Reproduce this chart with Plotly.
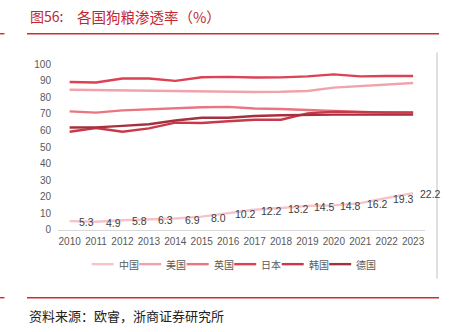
import plotly.graph_objects as go

W, H = 453, 332

years = list(range(2010, 2024))
series_names = ["中国", "美国", "英国", "日本", "韩国", "德国"]
china = [5.3, 4.9, 5.8, 6.3, 6.9, 8.0, 10.2, 12.2, 13.2, 14.5, 14.8, 16.2, 19.3, 22.2]
usa = [84.6, 84.4, 84.2, 84.0, 83.9, 83.8, 83.3, 83.3, 83.4, 83.9, 85.9, 86.8, 87.5, 88.7]
uk = [71.6, 70.8, 72.2, 72.9, 73.7, 74.1, 74.3, 73.3, 73.0, 72.3, 71.8, 71.2, 70.9, 70.8]
japan = [89.3, 89.0, 91.4, 91.4, 90.0, 92.2, 92.4, 92.0, 92.1, 92.7, 93.9, 92.7, 92.9, 92.9]
korea = [59.3, 61.5, 59.3, 61.3, 64.8, 64.6, 65.6, 66.5, 66.5, 70.4, 71.4, 71.0, 71.0, 71.0]
germany = [61.8, 61.9, 62.8, 63.8, 66.1, 67.7, 67.7, 68.8, 69.2, 69.6, 69.6, 69.6, 69.6, 69.6]
series_values = [china, usa, uk, japan, korea, germany]
colors = ["#f5c3c9", "#f0a3ab", "#ea7480", "#dc4154", "#c8394b", "#a5303e"]

title_lead = "图56:"
title_main = "各国狗粮渗透率（%）"
source_text = "资料来源：欧睿，浙商证券研究所"
y_ticks = [0, 10, 20, 30, 40, 50, 60, 70, 80, 90, 100]

RED = "#d42a2c"
CJK = "Noto Sans CJK SC"
LAT = "Liberation Sans"

fig = go.Figure()
for name, vals, col in zip(series_names, series_values, colors):
    fig.add_trace(go.Scatter(
        x=years, y=vals, name=name, mode="lines",
        line=dict(color=col, width=2.4), showlegend=False,
        hoverinfo="skip",
    ))

def px_x(p):
    return p / W

def px_y(p):
    return 1 - p / H

annotations = []
# data labels for China
for yr, v in zip(years, china):
    annotations.append(dict(
        x=yr, y=v, xref="x", yref="y", text=f"{v:.1f}", showarrow=False,
        xanchor="center", yanchor="middle", xshift=17, yshift=-1,
        font=dict(family=LAT, size=10.5, color="#404040"),
    ))

# title and source
annotations.append(dict(
    x=px_x(28), y=px_y(10.5), xref="paper", yref="paper", text=title_lead,
    showarrow=False, xanchor="left", yanchor="middle",
    font=dict(family=CJK, size=14, color="#c4262e"),
))
annotations.append(dict(
    x=px_x(75), y=px_y(10.5), xref="paper", yref="paper", text=title_main,
    showarrow=False, xanchor="left", yanchor="middle",
    font=dict(family=CJK, size=14.5, color="#c4262e"),
))
annotations.append(dict(
    x=px_x(27), y=px_y(320), xref="paper", yref="paper", text=source_text,
    showarrow=False, xanchor="left", yanchor="middle",
    font=dict(family=CJK, size=13, color="#222222"),
))

shapes = []
# red rules
for yy in (28.7, 301.7):
    shapes.append(dict(type="line", xref="paper", yref="paper",
                       x0=px_x(27), x1=px_x(439), y0=px_y(yy), y1=px_y(yy),
                       line=dict(color=RED, width=1.4)))
    shapes.append(dict(type="line", xref="paper", yref="paper",
                       x0=px_x(0), x1=px_x(4.5), y0=px_y(yy), y1=px_y(yy),
                       line=dict(color=RED, width=1.4)))
# gray vertical frame line at right
shapes.append(dict(type="line", xref="paper", yref="paper",
                   x0=px_x(437), x1=px_x(437), y0=px_y(48), y1=px_y(282),
                   line=dict(color="#c0c0c0", width=1)))

# manual legend
leg_x0, leg_pitch, leg_y = 91.7, 47.5, 267
for i, (name, col) in enumerate(zip(series_names, colors)):
    sx = leg_x0 + leg_pitch * i
    shapes.append(dict(type="line", xref="paper", yref="paper",
                       x0=px_x(sx), x1=px_x(sx + 22), y0=px_y(leg_y), y1=px_y(leg_y),
                       line=dict(color=col, width=2.4)))
    annotations.append(dict(
        x=px_x(sx + 25), y=px_y(leg_y), xref="paper", yref="paper", text=name,
        showarrow=False, xanchor="left", yanchor="middle",
        font=dict(family=CJK, size=10, color="#595959"),
    ))

fig.update_layout(
    width=W, height=H,
    margin=dict(l=0, r=0, t=0, b=0),
    paper_bgcolor="white", plot_bgcolor="white",
    xaxis=dict(
        domain=[58 / W, 425 / W], range=[2009.56, 2023.45],
        tickmode="array", tickvals=years, ticktext=[str(y) for y in years],
        showgrid=False, zeroline=False, showline=True, linecolor="#d9d9d9",
        linewidth=1, ticks="", fixedrange=True, ticklabelstandoff=2,
        tickfont=dict(family=LAT, size=10, color="#595959"),
    ),
    yaxis=dict(
        domain=[(H - 231.6) / H, (H - 60.3) / H], range=[0, 100],
        tickmode="array", tickvals=y_ticks,
        showgrid=False, zeroline=False, showline=False, ticks="",
        fixedrange=True, ticklabelstandoff=6,
        tickfont=dict(family=LAT, size=10, color="#595959"),
    ),
    annotations=annotations,
    shapes=shapes,
)

fig.write_html("out.html", config={"displayModeBar": False})
